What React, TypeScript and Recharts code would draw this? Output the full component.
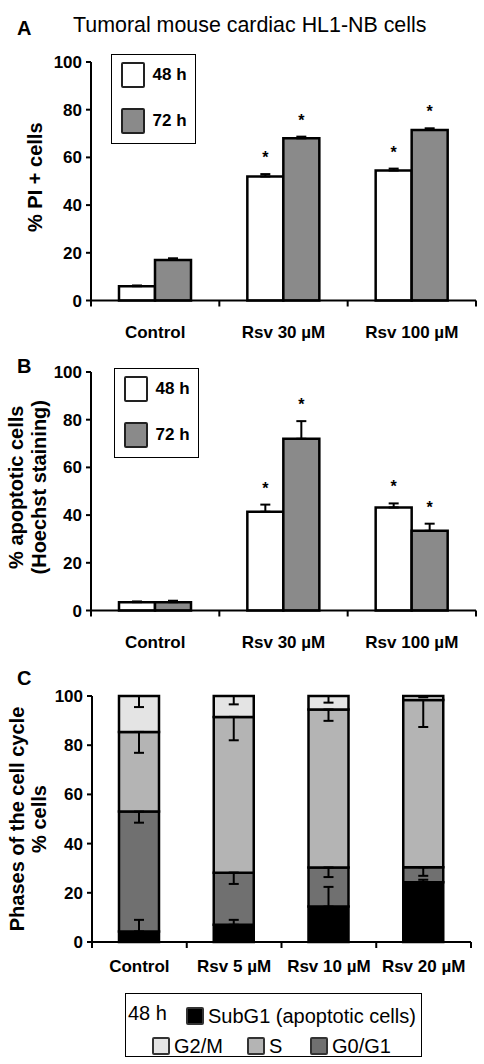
import React from "react";
import { BarChart, Bar, XAxis, YAxis, ErrorBar, LabelList, Legend } from "recharts";

const FONT = "'Liberation Sans', Arial, Helvetica, sans-serif";

// A: % PI+ cells
const doseCats = ["Control", "Rsv 30 µM", "Rsv 100 µM"];
const piH48 = [6, 52, 54.5];
const piH48Err = [0.3, 1, 0.8];
const piH72 = [17, 68, 71.5];
const piH72Err = [0.7, 0.7, 0.7];
const piStars48 = ["", "*", "*"];
const piStars72 = ["", "*", "*"];

// B: % apoptotic cells (Hoechst)
const apoH48 = [3.5, 41.4, 43.2];
const apoH48Err = [0.3, 3, 1.7];
const apoH72 = [3.5, 72, 33.4];
const apoH72Err = [0.6, 7.4, 3];
const apoStars48 = ["", "*", "*"];
const apoStars72 = ["", "*", "*"];

// C: cell-cycle phases at 48 h
const cycleCats = ["Control", "Rsv 5 µM", "Rsv 10 µM", "Rsv 20 µM"];
const subG1 = [4.3, 7, 14.4, 24.3];
const subG1Err = [4.7, 2, 8, 1];
const g0g1 = [48.7, 21.2, 15.9, 6.1];
const g0g1Err = [4.5, 4.6, 3.9, 3.5];
const sPhase = [32.4, 63.3, 64.2, 68];
const sPhaseErr = [8.5, 9.5, 4.6, 11];
const g2m = [14.6, 8.5, 5.5, 1.6];
const g2mErr = [4.5, 3.4, 2.7, 0.5];

const yTicks = [0, 20, 40, 60, 80, 100];

const GRAY = "#8a8a8a";
const C_SUB = "#000000";
const C_G01 = "#707070";
const C_S = "#b4b4b4";
const C_G2M = "#e4e4e4";
const BAR_STROKE = 2.5;

const twoTime = (v48: number[], e48: number[], s48: string[], v72: number[], e72: number[], s72: string[]) =>
  doseCats.map((cat, i) => ({
    cat,
    h48: v48[i],
    e48: [0, e48[i]],
    star48: s48[i] ? e48[i] : null,
    h72: v72[i],
    e72: [0, e72[i]],
    star72: s72[i] ? e72[i] : null,
  }));

const dataA = twoTime(piH48, piH48Err, piStars48, piH72, piH72Err, piStars72);
const dataB = twoTime(apoH48, apoH48Err, apoStars48, apoH72, apoH72Err, apoStars72);

// error bars in C hang down from the top of each segment, except SubG1 which points up
const dataC = cycleCats.map((cat, i) => ({
  cat,
  subG1: subG1[i],
  subG1Err: [0, subG1Err[i]],
  g0g1: g0g1[i],
  g0g1Err: [g0g1Err[i], 0],
  s: sPhase[i],
  sErr: [sPhaseErr[i], 0],
  g2m: g2m[i],
  g2mErr: [g2mErr[i], 0],
}));

const makeStar = (pxPerUnit: number) => (props: any) => {
  const { value } = props;
  if (value === null || value === undefined || value === "") return null;
  const vb = props.viewBox || props;
  const cx = vb.x + vb.width / 2;
  const top = Math.min(vb.y, vb.y + vb.height);
  const cy = top - Number(value) * pxPerUnit - 20;
  return (
    <text x={cx} y={cy + 9} textAnchor="middle" fontFamily={FONT} fontWeight="bold" fontSize={16} fill="#000">
      *
    </text>
  );
};

const makeCatTick = (dy: number, count: number, halfBand: number) => (props: any) => {
  const { x, y, payload, index } = props;
  const half = payload && typeof payload.offset === "number" && payload.offset > 0 ? payload.offset : halfBand;
  return (
    <g>
      <line x1={x - half} x2={x - half} y1={y} y2={y + 6} stroke="#000" strokeWidth={2} />
      {index === count - 1 && <line x1={x + half} x2={x + half} y1={y} y2={y + 6} stroke="#000" strokeWidth={2} />}
      <text x={x} y={y + dy} textAnchor="middle" fontFamily={FONT} fontWeight="bold" fontSize={17} fill="#000">
        {payload.value}
      </text>
    </g>
  );
};

const makeYLabel = (lines: { text: string; x: number }[], dyCenter: number) => (props: any) => {
  const vb = props.viewBox || { y: 0, height: 0 };
  const cy = vb.y + vb.height / 2 + dyCenter;
  return (
    <g>
      {lines.map((l) => (
        <text
          key={l.text}
          x={l.x}
          y={cy}
          transform={`rotate(-90, ${l.x}, ${cy})`}
          textAnchor="middle"
          dominantBaseline="central"
          fontFamily={FONT}
          fontWeight="bold"
          fontSize={20}
          fill="#000"
        >
          {l.text}
        </text>
      ))}
    </g>
  );
};

const TimeLegend = (props: any) => {
  const items = props.payload || [];
  return (
    <div
      style={{
        width: 85,
        height: 90,
        boxSizing: "border-box",
        border: "1.5px solid #000",
        background: "#fff",
        position: "relative",
        fontFamily: FONT,
      }}
    >
      {items.map((it: any, i: number) => (
        <div key={it.value} style={{ position: "absolute", left: 8.5, top: 6.5 + i * 46, display: "flex", alignItems: "center" }}>
          <div
            style={{
              width: 24,
              height: 26,
              boxSizing: "border-box",
              border: "2.5px solid #222",
              borderRadius: 2,
              background: it.color,
            }}
          />
          <span style={{ marginLeft: 8, fontWeight: "bold", fontSize: 17, color: "#000" }}>{it.value}</span>
        </div>
      ))}
    </div>
  );
};

const cycleLegendPos: Record<string, { left: number; top: number }> = {
  subG1: { left: 60, top: 10.5 },
  g2m: { left: 26, top: 40.5 },
  s: { left: 121, top: 40.5 },
  g0g1: { left: 184, top: 40.5 },
};

const CycleLegend = (props: any) => {
  const items = props.payload || [];
  return (
    <div
      style={{
        width: 297,
        height: 64,
        boxSizing: "border-box",
        border: "1.5px solid #000",
        background: "#fff",
        position: "relative",
        fontFamily: FONT,
        fontSize: 20,
        color: "#000",
      }}
    >
      <span style={{ position: "absolute", left: 2, top: 8, lineHeight: "22px" }}>48 h</span>
      {items.map((it: any) => {
        const p = cycleLegendPos[it.dataKey] || { left: 0, top: 0 };
        return (
          <div key={it.value} style={{ position: "absolute", left: p.left, top: p.top, display: "flex", alignItems: "center" }}>
            <div
              style={{
                width: 18,
                height: 18,
                boxSizing: "border-box",
                border: "2px solid #333",
                borderRadius: 2,
                background: it.color,
              }}
            />
            <span style={{ marginLeft: 4, lineHeight: "22px" }}>{it.value}</span>
          </div>
        );
      })}
    </div>
  );
};

const axisStroke = { stroke: "#000", strokeWidth: 2 };
const yTickStyle = { fontFamily: FONT, fontWeight: "bold", fontSize: 17, fill: "#000" } as any;

function TimePanel({ data, top, legendTop, legendLeft, label }: any) {
  const plotH = 238.5;
  return (
    <div style={{ position: "absolute", left: 0, top }}>
      <BarChart
        width={484}
        height={350}
        data={data}
        margin={{ top: 62, right: 8, left: 0, bottom: 0 }}
        barSize={36}
        barGap={0}
      >
        <XAxis
          dataKey="cat"
          height={49.5}
          interval={0}
          tickLine={false}
          tickSize={0}
          tickMargin={0}
          axisLine={axisStroke}
          tick={makeCatTick(37, doseCats.length, (484 - 91 - 8) / doseCats.length / 2)}
        />
        <YAxis
          width={91}
          domain={[0, 100]}
          ticks={yTicks}
          interval={0}
          tickSize={5}
          tickMargin={4}
          axisLine={axisStroke}
          tickLine={axisStroke}
          tick={yTickStyle}
          label={{ content: label }}
        />
        <Legend
          layout="vertical"
          verticalAlign="middle"
          align="center"
          wrapperStyle={{ left: legendLeft, top: legendTop, width: "auto", height: "auto" }}
          content={TimeLegend}
        />
        <Bar dataKey="h48" name="48 h" fill="#ffffff" stroke="#000" strokeWidth={BAR_STROKE} isAnimationActive={false}>
          <ErrorBar dataKey="e48" width={5} stroke="#000" strokeWidth={2} />
          <LabelList dataKey="star48" content={makeStar(plotH / 100)} />
        </Bar>
        <Bar dataKey="h72" name="72 h" fill={GRAY} stroke="#000" strokeWidth={BAR_STROKE} isAnimationActive={false}>
          <ErrorBar dataKey="e72" width={5} stroke="#000" strokeWidth={2} />
          <LabelList dataKey="star72" content={makeStar(plotH / 100)} />
        </Bar>
      </BarChart>
    </div>
  );
}

export default function App() {
  return (
    <div style={{ position: "absolute", left: 0, top: 0, width: 484, height: 1064, background: "#fff" }}>
      <svg width={484} height={1064} style={{ position: "absolute", left: 0, top: 0 }}>
        <text x={73} y={32} fontFamily={FONT} fontSize={21.4} fill="#000">
          Tumoral mouse cardiac HL1-NB cells
        </text>
        <text x={17} y={35} fontFamily={FONT} fontWeight="bold" fontSize={20} fill="#000">A</text>
        <text x={17} y={373} fontFamily={FONT} fontWeight="bold" fontSize={20} fill="#000">B</text>
        <text x={17} y={685} fontFamily={FONT} fontWeight="bold" fontSize={20} fill="#000">C</text>
      </svg>

      <TimePanel
        data={dataA}
        top={0}
        legendLeft={111}
        legendTop={54}
        label={makeYLabel([{ text: "% PI + cells", x: 34.5 }], -4)}
      />
      <TimePanel
        data={dataB}
        top={310}
        legendLeft={114}
        legendTop={58}
        label={makeYLabel(
          [
            { text: "% apoptotic cells", x: 16 },
            { text: "(Hoechst staining)", x: 39 },
          ],
          -4
        )}
      />

      <div style={{ position: "absolute", left: 0, top: 630 }}>
        <BarChart
          width={484}
          height={434}
          data={dataC}
          margin={{ top: 66, right: 13, left: 0, bottom: 82 }}
          barSize={40}
        >
          <XAxis
            dataKey="cat"
            height={40}
            interval={0}
            tickLine={false}
            tickSize={0}
            tickMargin={0}
            axisLine={axisStroke}
            tick={makeCatTick(30, cycleCats.length, (484 - 92 - 13) / cycleCats.length / 2)}
          />
          <YAxis
            width={92}
            domain={[0, 100]}
            ticks={yTicks}
            interval={0}
            tickSize={5}
            tickMargin={4}
            axisLine={axisStroke}
            tickLine={axisStroke}
            tick={yTickStyle}
            label={{
              content: makeYLabel(
                [
                  { text: "Phases of  the cell cycle", x: 16.5 },
                  { text: "% cells", x: 39 },
                ],
                0
              ),
            }}
          />
          <Legend
            layout="vertical"
            verticalAlign="middle"
            align="center"
            wrapperStyle={{ left: 125, top: 363, width: "auto", height: "auto" }}
            content={CycleLegend}
          />
          <Bar dataKey="subG1" name="SubG1 (apoptotic cells)" stackId="c" fill={C_SUB} stroke="#000" strokeWidth={BAR_STROKE} isAnimationActive={false}>
            <ErrorBar dataKey="subG1Err" width={5} stroke="#000" strokeWidth={2} />
          </Bar>
          <Bar dataKey="g0g1" name="G0/G1" stackId="c" fill={C_G01} stroke="#000" strokeWidth={BAR_STROKE} isAnimationActive={false}>
            <ErrorBar dataKey="g0g1Err" width={5} stroke="#000" strokeWidth={2} />
          </Bar>
          <Bar dataKey="s" name="S" stackId="c" fill={C_S} stroke="#000" strokeWidth={BAR_STROKE} isAnimationActive={false}>
            <ErrorBar dataKey="sErr" width={5} stroke="#000" strokeWidth={2} />
          </Bar>
          <Bar dataKey="g2m" name="G2/M" stackId="c" fill={C_G2M} stroke="#000" strokeWidth={BAR_STROKE} isAnimationActive={false}>
            <ErrorBar dataKey="g2mErr" width={5} stroke="#000" strokeWidth={2} />
          </Bar>
        </BarChart>
      </div>
    </div>
  );
}
